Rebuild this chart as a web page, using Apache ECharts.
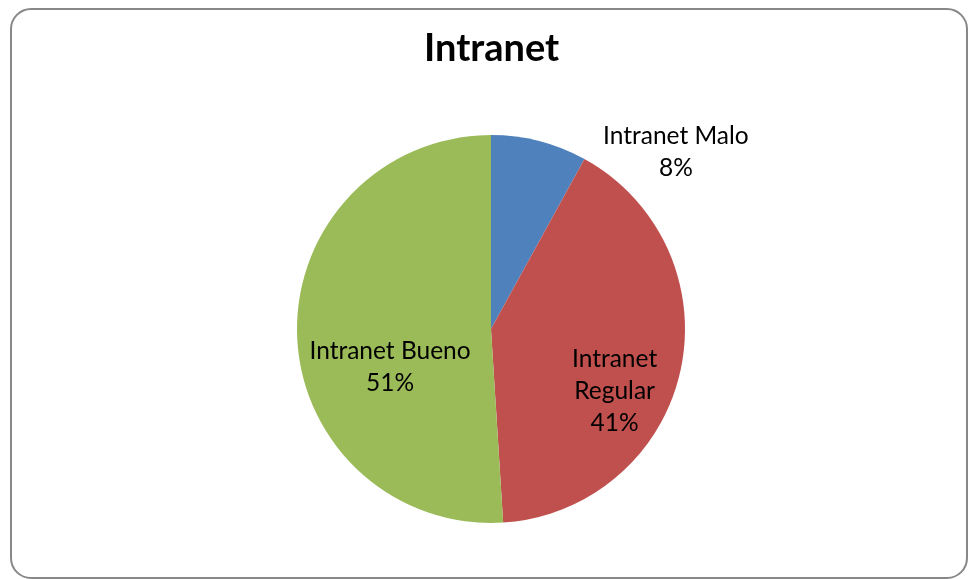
<!DOCTYPE html>
<html>
<head>
<meta charset="utf-8">
<style>
  html, body { margin: 0; padding: 0; background: #ffffff; }
  #chart { width: 968px; height: 579px; }
</style>
<script src="https://cdn.jsdelivr.net/npm/echarts@6/dist/echarts.min.js"></script>
</head>
<body>
<div id="chart"></div>
<script>
// Slice data
const categories = ['Intranet Malo', 'Intranet Regular', 'Intranet Bueno'];
const values = [8, 41, 51];
const colors = ['#4F81BD', '#C0504D', '#9BBB59'];
// Label text layout for each slice (line breaks) and nudges from the default spot
const labelTexts = ['Intranet Malo', 'Intranet\nRegular', 'Intranet Bueno'];
const labelOffsets = [[160, -80], [26, 40], [-1, 35]];

const chart = echarts.init(document.getElementById('chart'), null, { renderer: 'canvas' });

const seriesData = categories.map((name, i) => ({
  name: name,
  value: values[i],
  itemStyle: { color: colors[i] },
  label: {
    offset: labelOffsets[i],
    formatter: (p) => labelTexts[i] + '\n' + Math.round(p.percent) + '%'
  }
}));

chart.setOption({
  animation: false,
  backgroundColor: '#ffffff',
  title: {
    text: 'Intranet',
    left: 419,
    top: 25,
    textStyle: {
      fontFamily: 'Lato',
      fontWeight: 'bold',
      fontSize: 38,
      color: '#000000'
    }
  },
  graphic: [{
    type: 'rect',
    shape: { x: 11, y: 9, width: 956, height: 569, r: 20 },
    style: { fill: 'none', stroke: '#888888', lineWidth: 2 },
    silent: true,
    z: 100
  }],
  series: [{
    type: 'pie',
    center: [491, 329],
    radius: 194,
    startAngle: 90,
    clockwise: true,
    avoidLabelOverlap: false,
    data: seriesData,
    label: {
      show: true,
      position: 'inside',
      fontFamily: 'Lato',
      fontSize: 24.5,
      lineHeight: 32,
      color: '#000000',
      align: 'center'
    },
    labelLine: { show: false },
    itemStyle: { borderWidth: 0 },
    emphasis: { disabled: true }
  }]
});
</script>
</body>
</html>
